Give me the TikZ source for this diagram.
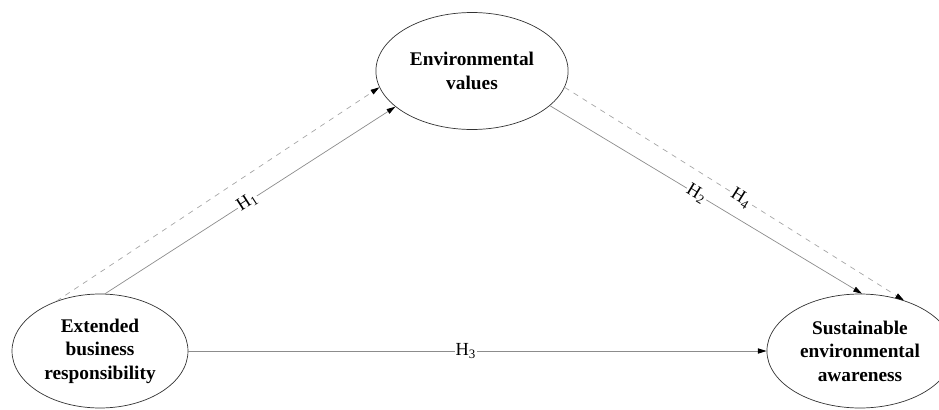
\documentclass[tikz,border=0pt]{standalone}
\usepackage{fontspec}
\setmainfont{Liberation Serif}
\usepackage{tikz}
\usetikzlibrary{positioning,arrows.meta,shapes.geometric}

\begin{document}
\begin{tikzpicture}[x=0.02cm, y=-0.02cm,
  construct/.style={draw=black!80, ellipse, minimum width=3.52cm, minimum height=2.28cm, align=center, font=\fontsize{11}{13.4}\selectfont\bfseries},
  hyp/.style={draw=black!45, -{Triangle[length=5pt, width=3pt, black]}, line width=0.4pt},
  hypdash/.style={hyp, draw=black!35, dashed},
  hlabel/.style={sloped, fill=white, inner sep=0.5pt, font=\fontsize{10.5}{12}\selectfont}]
\useasboundingbox (0,0) rectangle (939,409);
% constructs
\node[construct, minimum height=2.34cm] (values) at (472,71) {Environmental\\ values};
\node[construct] (ebr) at (100,351) {Extended\\ business\\ responsibility};
\node[construct] (sea) at (860,351) {Sustainable\\ environmental\\ awareness};
% hypotheses
\draw[hypdash] (ebr.131) -- (values.190);
\draw[hyp] (ebr.85) -- node[hlabel, pos=0.49]{H\textsubscript{1}} (values.205);
\draw[hyp] (values.-24) -- node[hlabel, pos=0.47]{H\textsubscript{2}} (sea.88);
\draw[hypdash] (values.-10) -- node[hlabel, pos=0.52]{H\textsubscript{4}} (sea.49);
\draw[hyp] (ebr.east) -- node[hlabel, pos=0.48, sloped=false]{H\textsubscript{3}} (sea.west);
\end{tikzpicture}
\end{document}
